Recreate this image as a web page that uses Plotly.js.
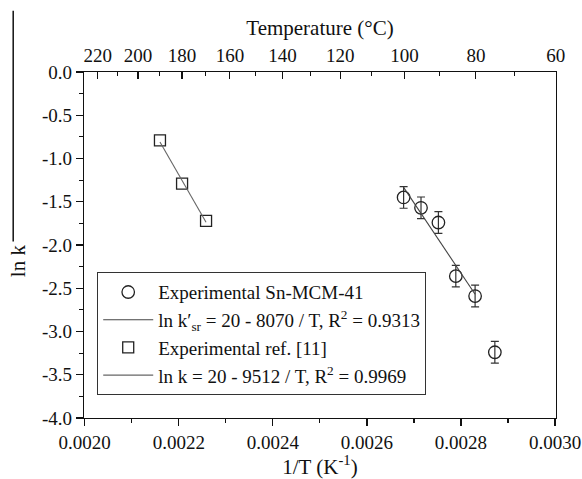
<!DOCTYPE html>
<html>
<head>
<meta charset="utf-8">
<script src="https://cdn.plot.ly/plotly-3.0.1.min.js"></script>
<style>html,body{margin:0;padding:0;background:#fff;}#chart{width:582px;height:479px;}</style>
</head>
<body>
<div id="chart"></div>
<script>
// Experimental Sn-MCM-41 (circles) : 1/T (K^-1) and ln k, with error
const snInvT = [0.002678, 0.002715, 0.002752, 0.002789, 0.002830, 0.002872];
const snLnK  = [-1.45, -1.57, -1.74, -2.36, -2.59, -3.24];
const snErr  = [0.125, 0.125, 0.125, 0.125, 0.125, 0.125];
const snFitCount = 5; // fit uses the first five points
// Experimental ref. [11] (squares)
const refInvT = [0.002160, 0.002207, 0.002258];
const refLnK  = [-0.79, -1.29, -1.72];
// Legend labels
const snName   = "Experimental Sn-MCM-41";
const snFitName = "ln k\u2032<sub>sr</sub> = 20 - 8070 / T, R<sup>2</sup> = 0.9313";
const refName  = "Experimental ref. [11]";
const refFitName = "ln k = 20 - 9512 / T, R<sup>2</sup> = 0.9969";
// Axis ticks
const yTickVals = [0, -0.5, -1, -1.5, -2, -2.5, -3, -3.5, -4];
const yTickText = ["0.0", "-0.5", "-1.0", "-1.5", "-2.0", "-2.5", "-3.0", "-3.5", "-4.0"];
const xTickVals = [0.0020, 0.0022, 0.0024, 0.0026, 0.0028, 0.0030];
const xTickText = ["0.0020", "0.0022", "0.0024", "0.0026", "0.0028", "0.0030"];
const xMinorVals = [0.0021, 0.0023, 0.0025, 0.0027, 0.0029];
const tempMajor = [220, 200, 180, 160, 140, 120, 100, 80, 60];
const tempMinor = [210, 190, 170, 150, 130, 110, 90, 70];

function fitLine(xs, ys) {
  const n = xs.length;
  const mx = xs.reduce((a, b) => a + b, 0) / n;
  const my = ys.reduce((a, b) => a + b, 0) / n;
  let sxy = 0, sxx = 0;
  for (let i = 0; i < n; i++) { sxy += (xs[i] - mx) * (ys[i] - my); sxx += (xs[i] - mx) ** 2; }
  const b = sxy / sxx, a = my - b * mx;
  const x0 = Math.min(...xs), x1 = Math.max(...xs);
  return { x: [x0, x1], y: [a + b * x0, a + b * x1] };
}
const snFit = fitLine(snInvT.slice(0, snFitCount), snLnK.slice(0, snFitCount));
const refFit = fitLine(refInvT, refLnK);
const toInv = t => 1 / (t + 273.15);

const font = "Liberation Serif, Times New Roman, serif";
const xRange = [0.0019985, 0.0030020];
const traces = [
  { x: snInvT, y: snLnK, name: snName, type: "scatter", mode: "markers",
    marker: { symbol: "circle-open", size: 12.5, color: "#222", line: { width: 1.3, color: "#222" } },
    error_y: { type: "data", array: snErr, visible: true, color: "#333", thickness: 1.2, width: 4 } },
  { x: snFit.x, y: snFit.y, name: snFitName, type: "scatter", mode: "lines",
    line: { color: "#444", width: 1.1 } },
  { x: refInvT, y: refLnK, name: refName, type: "scatter", mode: "markers",
    marker: { symbol: "square-open", size: 11, color: "#222", line: { width: 1.3, color: "#222" } } },
  { x: refFit.x, y: refFit.y, name: refFitName, type: "scatter", mode: "lines",
    line: { color: "#666", width: 1.1 } },
  // invisible carrier so the temperature (top) axis is drawn
  { x: refInvT, y: refLnK, xaxis: "x2", yaxis: "y", type: "scatter", mode: "markers",
    marker: { opacity: 0, size: 1 }, showlegend: false, hoverinfo: "skip" }
];

const layout = {
  width: 582, height: 479,
  margin: { l: 84, r: 25.5, t: 72, b: 60.5 },
  paper_bgcolor: "#fff", plot_bgcolor: "#fff",
  font: { family: font, size: 19, color: "#111" },
  showlegend: true,
  legend: { x: 0.028, y: 0.4215, xanchor: "left", yanchor: "top",
    bgcolor: "#fff", bordercolor: "#333", borderwidth: 1,
    font: { family: font, size: 19, color: "#111" }, itemwidth: 50, tracegroupgap: 0 },
  xaxis: { range: xRange, tickmode: "array", tickvals: xTickVals, ticktext: xTickText,
    ticks: "outside", ticklen: 7, tickwidth: 1.2, tickcolor: "#111",
    showline: true, linecolor: "#111", linewidth: 1.2, showgrid: false, zeroline: false,
    minor: { tickvals: xMinorVals, ticks: "outside", ticklen: 4, tickwidth: 1.2, tickcolor: "#111" },
    tickfont: { family: font, size: 19, color: "#111" },
    title: { text: "1/T (K<sup>-1</sup>)", font: { family: font, size: 21, color: "#111" }, standoff: 5 } },
  xaxis2: { overlaying: "x", side: "top", anchor: "y", range: xRange,
    tickmode: "array", tickvals: tempMajor.map(toInv), ticktext: tempMajor.map(String),
    ticks: "inside", ticklen: 7, tickwidth: 1.2, tickcolor: "#111",
    showline: true, linecolor: "#111", linewidth: 1.2, showgrid: false, zeroline: false,
    minor: { tickvals: tempMinor.map(toInv), ticks: "inside", ticklen: 4, tickwidth: 1.2, tickcolor: "#111" },
    tickfont: { family: font, size: 19, color: "#111" }, ticklabelstandoff: 1,
    title: { text: "Temperature (\u00B0C)", font: { family: font, size: 21, color: "#111" }, standoff: 3 } },
  yaxis: { range: [-4, 0], tickmode: "array", tickvals: yTickVals, ticktext: yTickText,
    ticks: "outside", ticklen: 7, tickwidth: 1.2, tickcolor: "#111",
    showline: true, mirror: true, linecolor: "#111", linewidth: 1.2, showgrid: false, zeroline: false,
    minor: { dtick: 0.25, tick0: 0, ticks: "outside", ticklen: 4, tickwidth: 1.2, tickcolor: "#111" },
    tickfont: { family: font, size: 19, color: "#111" },
    title: { text: "" } },
  annotations: [
    { text: "ln k", textangle: -90, xref: "paper", yref: "paper",
      x: -0.1407, y: 0.455, xanchor: "center", yanchor: "middle", showarrow: false,
      font: { family: font, size: 21, color: "#111" } }
  ],
  shapes: [
    { type: "line", xref: "paper", yref: "paper", x0: -0.150, x1: -0.150, y0: 0.51, y1: 1.177,
      line: { color: "#111", width: 1.5 } }
  ]
};
Plotly.newPlot("chart", traces, layout, { staticPlot: true, displayModeBar: false });
</script>
</body>
</html>
